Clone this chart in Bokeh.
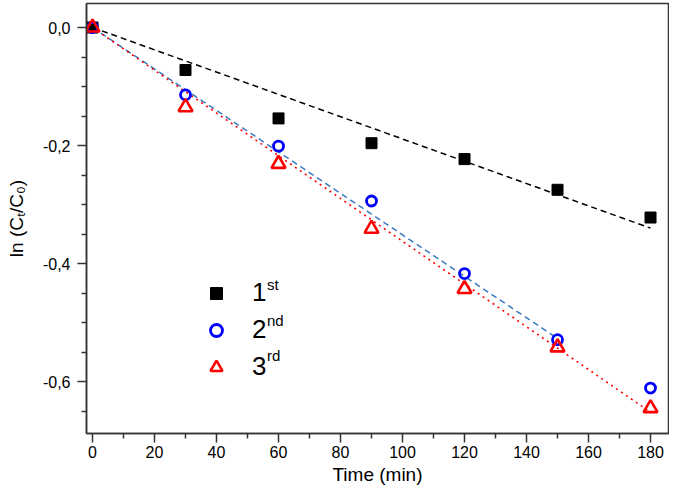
from bokeh.plotting import figure
from bokeh.models import Range1d, FixedTicker, CustomJSTickFormatter, Legend, LegendItem, Label
from bokeh.embed import file_html
from bokeh.resources import INLINE

# ---- data ----
time_min = [0, 30, 60, 90, 120, 150, 180]
run1 = [0.0, -0.072, -0.154, -0.196, -0.223, -0.275, -0.322]
run2 = [0.0, -0.114, -0.201, -0.294, -0.417, -0.529, -0.611]
run3 = [0.0, -0.135, -0.231, -0.341, -0.443, -0.542, -0.645]

fit1_x = [0, 180]
fit1_y = [0.0, -0.340]
fit2_x = [0, 150]
fit2_y = [0.0, -0.527]
fit3_x = [0, 180]
fit3_y = [0.0, -0.652]

legend_labels = ["1", "2", "3"]
legend_sups = ["st", "nd", "rd"]

x_ticks = [0, 20, 40, 60, 80, 100, 120, 140, 160, 180]
x_minor = [10, 30, 50, 70, 90, 110, 130, 150, 170]
y_ticks = [0.0, -0.2, -0.4, -0.6]
y_minor = [-0.05, -0.1, -0.15, -0.25, -0.3, -0.35, -0.45, -0.5, -0.55, -0.65]

FONT = "Liberation Sans"
AX = "#333333"

p = figure(width=669, height=487,
           x_range=Range1d(-1.94, 185.8), y_range=Range1d(-0.688, 0.0407),
           output_backend="svg", toolbar_location=None,
           min_border_left=86, min_border_right=1, min_border_top=3, min_border_bottom=54)

p.xgrid.visible = False
p.ygrid.visible = False
p.outline_line_color = AX
p.outline_line_width = 1.5
p.background_fill_color = "white"

p.line(fit1_x, fit1_y, line_color="black", line_dash="6 4", line_width=1.5)
p.line(fit2_x, fit2_y, line_color="#3a7bbf", line_dash="6 4", line_width=1.5)
p.line(fit3_x, fit3_y, line_color="red", line_dash="2 4", line_width=1.6)

r1 = p.scatter(time_min, run1, marker="square", size=11, fill_color="black", line_color="black")
r2 = p.scatter(time_min, run2, marker="circle", size=10, fill_color=None, line_color="blue", line_width=2.8)
r3 = p.scatter(time_min, run3, marker="triangle", size=14, fill_color=None, line_color="red", line_width=2.6)

for ax in (p.xaxis, p.yaxis):
    ax.axis_line_color = AX
    ax.axis_line_width = 1.5
    ax.major_tick_line_color = AX
    ax.minor_tick_line_color = AX
    ax.major_tick_line_width = 1.5
    ax.minor_tick_line_width = 1.5
    ax.major_tick_in = 0
    ax.major_tick_out = 9
    ax.minor_tick_in = 0
    ax.minor_tick_out = 5
    ax.major_label_text_font = FONT
    ax.major_label_text_font_size = "16px"
    ax.major_label_text_color = "black"
    ax.axis_label_text_font = FONT
    ax.axis_label_text_font_size = "19px"
    ax.axis_label_text_font_style = "normal"
    ax.axis_label_text_color = "black"

p.xaxis.ticker = FixedTicker(ticks=x_ticks, minor_ticks=x_minor)
p.yaxis.ticker = FixedTicker(ticks=y_ticks, minor_ticks=y_minor)
p.yaxis.formatter = CustomJSTickFormatter(code="return tick.toFixed(1).replace('.', ',');")
p.xaxis.axis_label = "Time (min)"
p.yaxis.axis_label = "ln (C\u209c/C\u2080)"
p.xaxis.major_label_standoff = 3
p.xaxis.axis_label_standoff = 3
p.yaxis.major_label_standoff = 7
p.yaxis.axis_label_standoff = 13

legend = Legend(items=[LegendItem(label=legend_labels[0], renderers=[r1]),
                       LegendItem(label=legend_labels[1], renderers=[r2]),
                       LegendItem(label=legend_labels[2], renderers=[r3])],
                location=(115, 51), orientation="vertical",
                glyph_width=30, glyph_height=30, label_height=30, spacing=6,
                padding=0, margin=0, label_standoff=21,
                label_text_font=FONT, label_text_font_size="26px",
                label_text_color="black",
                border_line_color=None, background_fill_alpha=0)
p.add_layout(legend)

for i, s in enumerate(legend_sups):
    p.add_layout(Label(x=180.5, y=149 - 35.5 * i, x_units="screen", y_units="screen",
                       text=s, text_font=FONT, text_font_size="15px",
                       text_baseline="alphabetic", text_color="black"))

open("out.html", "w").write(file_html(p, INLINE))
